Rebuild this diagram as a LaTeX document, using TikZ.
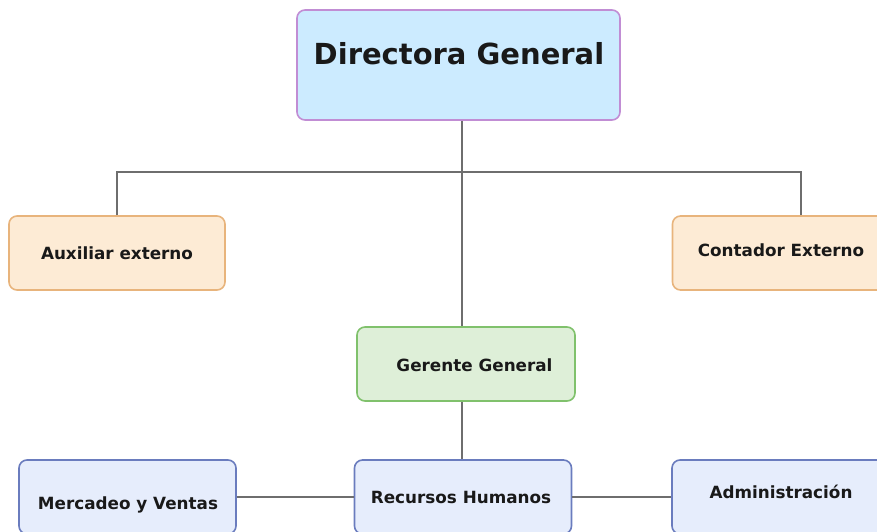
\documentclass[tikz,border=0pt]{standalone}
\usepackage{fontspec}
\setmainfont{DejaVu Sans}
\definecolor{dirfill}{HTML}{CCEBFF}
\definecolor{dirdraw}{HTML}{C18DD4}
\definecolor{extfill}{HTML}{FDEBD5}
\definecolor{extdraw}{HTML}{E8B47C}
\definecolor{gerfill}{HTML}{DEEFD8}
\definecolor{gerdraw}{HTML}{80C16C}
\definecolor{depfill}{HTML}{E6EDFC}
\definecolor{depdraw}{HTML}{6A7CBE}
\definecolor{linegray}{HTML}{6E6E6E}
\tikzset{
  x=1pt, y=-1pt,
  box/.style={draw, rounded corners=8pt, line width=1.6pt, inner sep=0pt},
  dirbox/.style={box, fill=dirfill, draw=dirdraw, minimum width=323pt, minimum height=110pt},
  extbox/.style={box, fill=extfill, draw=extdraw, minimum width=216pt, minimum height=74pt},
  gerbox/.style={box, fill=gerfill, draw=gerdraw, minimum width=218pt, minimum height=74pt},
  depbox/.style={box, fill=depfill, draw=depdraw, minimum width=217pt, minimum height=74pt},
  lbl/.style={anchor=base, inner sep=0pt, text=black!90, font=\bfseries\fontsize{16.8}{18}\selectfont},
  title/.style={anchor=base, inner sep=0pt, text=black!90, font=\bfseries\fontsize{29}{32}\selectfont},
  conn/.style={draw=linegray, line width=1.1pt}
}
\begin{document}
\begin{tikzpicture}
\useasboundingbox (0,0) rectangle (877,532);
\clip (0,0) rectangle (877,532);
% boxes
\node[dirbox] (dir) at (458.5,65) {};
\node[title] (dirt) at (459,65) {Directora General};
\node[extbox] (aux) at (117,253) {};
\node[lbl] (auxt) at (117,259) {Auxiliar externo};
\node[extbox] (con) at (780.5,253) {};
\node[lbl] (cont) at (781,256) {Contador Externo};
\node[gerbox] (ger) at (466,364) {};
\node[lbl] (gert) at (474.5,371) {Gerente General};
\node[depbox] (mv) at (127.5,497) {};
\node[lbl] (mvt) at (128,509) {Mercadeo y Ventas};
\node[depbox] (rh) at (463,497) {};
\node[lbl] (rht) at (461,503) {Recursos Humanos};
\node[depbox] (adm) at (780.5,497) {};
\node[lbl] (admt) at (781,498) {Administración};
% junctions
\coordinate (j) at (462,172);
\coordinate (cl) at (117,172);
\coordinate (cr) at (801,172);
% connectors
\draw[conn] (dir.south -| j) -- (ger.north -| j);
\draw[conn] (aux.north) -- (cl) -- (cr) -- (con.north -| cr);
\draw[conn] (ger.south -| j) -- (rh.north -| j);
\draw[conn] (mv.east) -- (rh.west);
\draw[conn] (rh.east) -- (adm.west);
\end{tikzpicture}
\end{document}
